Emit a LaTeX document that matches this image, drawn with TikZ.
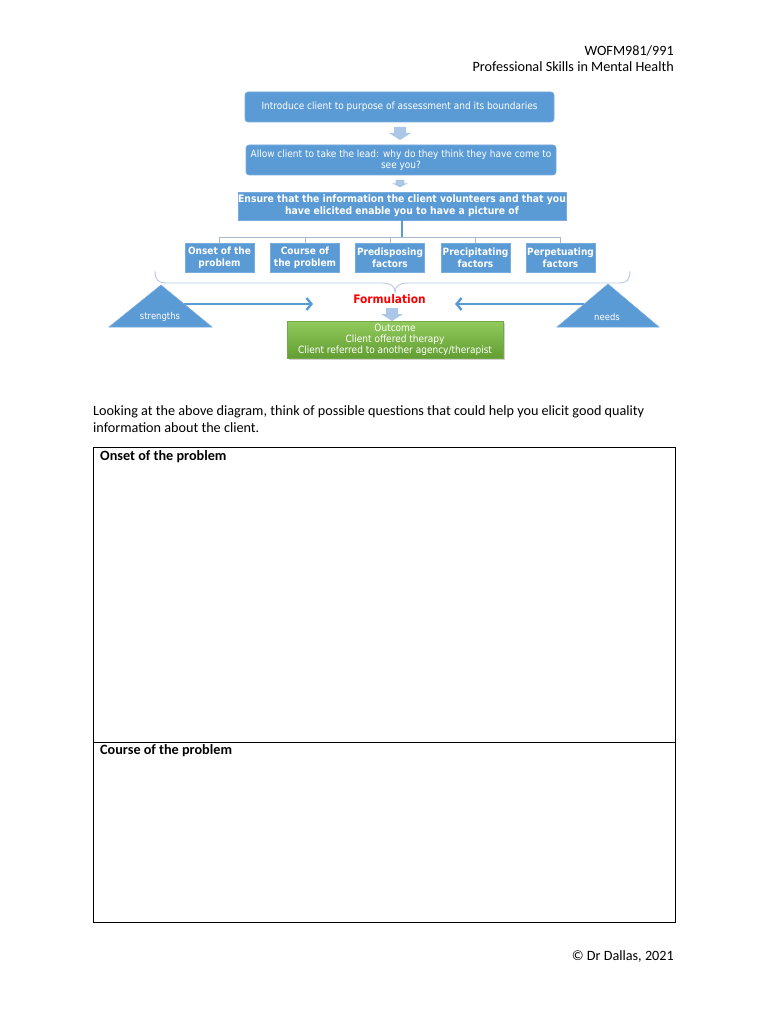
\documentclass[tikz,border=0pt]{standalone}
\usepackage{fontspec}
\setmainfont{Carlito}
\newfontfamily\diagfont[FakeStretch=0.9]{DejaVu Sans}
\usetikzlibrary{arrows.meta}
\definecolor{obl}{RGB}{91,155,213}
\definecolor{oblb}{RGB}{120,172,222}
\definecolor{lbl}{RGB}{172,198,232}
\definecolor{lnc}{RGB}{168,184,202}
\definecolor{brc}{RGB}{185,203,225}
\definecolor{gtop}{RGB}{146,202,92}
\definecolor{gbot}{RGB}{98,158,50}
\begin{document}
\begin{tikzpicture}[x=1pt,y=-1pt,
  bluebox/.style={fill=obl, draw=oblb, line width=0.6pt, text=white, align=center, inner sep=0pt},
  stagebox/.style={bluebox, rounded corners=3pt, minimum width=309pt, minimum height=30pt, font=\diagfont\fontsize{10}{11}\selectfont},
  factorbox/.style={bluebox, minimum width=69pt, minimum height=29pt, font=\diagfont\bfseries\fontsize{10}{11.7}\selectfont},
  bodytext/.style={inner sep=0pt, font=\fontsize{14.2}{17}\selectfont},
  boldtext/.style={inner sep=0pt, font=\bfseries\fontsize{14.2}{17}\selectfont},
  treeline/.style={draw=lnc, line width=0.8pt},
  bluearrow/.style={draw=obl, line width=2.4pt, -{Straight Barb[length=5pt,width=12pt]}},
  trifill/.style={fill=obl, draw=oblb, line width=0.5pt},
  trilabel/.style={inner sep=0pt, text=white, font=\diagfont\fontsize{9.4}{11}\selectfont},
  downarrow/.pic={\fill[lbl] (-6,0) -- (6,0) -- (6,6) -- (11,6) -- (0,13) -- (-11,6) -- (-6,6) -- cycle;}
]
\useasboundingbox (0,0) rectangle (768,1024);
\fill[white] (0,0) rectangle (768,1024);

% header
\node[bodytext, anchor=base east] (code) at (674,55.5) {WOFM981/991};
\node[bodytext, anchor=base east] (course) at (674,71.5) {Professional Skills in Mental Health};

% flow boxes
\node[stagebox] (intro) at (399.5,107) {Introduce client to purpose of assessment and its boundaries};
\node[stagebox, minimum width=310pt] (lead) at (401,160) {Allow client to take the lead: why do they think they have come to\\see you?};
\node[bluebox, minimum width=328pt, minimum height=28pt, font=\diagfont\bfseries\fontsize{10.3}{12.3}\selectfont] (ensure) at (402,206) {Ensure that the information the client volunteers and that you\\have elicited enable you to have a picture of};

\pic at (400,127) {downarrow};
\pic[xscale=0.72, yscale=0.55] at (400,180) {downarrow};

% factors
\node[factorbox] (onset) at (219.5,257.5) {Onset of the\\problem};
\node[factorbox] (coursep) at (305,257.5) {Course of\\the problem};
\node[factorbox] (predis) at (390,257.5) {Predisposing\\factors};
\node[factorbox] (precip) at (475.5,257.5) {Precipitating\\factors};
\node[factorbox] (perpet) at (560.5,257.5) {Perpetuating\\factors};

\coordinate (bus) at (402,237);
\draw[treeline] (onset.north) |- (bus);
\draw[treeline] (coursep.north) |- (bus);
\draw[treeline] (predis.north) |- (bus);
\draw[treeline] (precip.north) |- (bus);
\draw[treeline] (perpet.north) |- (bus);
\draw[draw=obl, line width=1.4pt] (ensure.south -| bus) -- (bus);

% brace
\draw[draw=brc, line width=0.9pt] (155,271) .. controls (155,280) and (158,283) .. (167,283) -- (383,283)
  .. controls (390,283) and (395,286) .. (395,292) .. controls (395,286) and (400,283) .. (407,283)
  -- (618,283) .. controls (627,283) and (630,280) .. (630,271);

% formulation
\node[inner sep=0pt, text=red, font=\diagfont\bfseries\fontsize{11.8}{13}\selectfont] (form) at (389.5,299) {Formulation};
\coordinate (lstart) at (184,304);
\coordinate (lend) at (313,304);
\coordinate (rstart) at (584,304);
\coordinate (rend) at (455,304);
\draw[bluearrow] (lstart) -- (lend);
\draw[bluearrow] (rstart) -- (rend);

% triangles
\fill[trifill] (161,285) -- (212,327) -- (109,327) -- cycle;
\fill[trifill] (608,284) -- (659,327) -- (557,327) -- cycle;
\node[trilabel] (strengths) at (160,317) {strengths};
\node[trilabel] (needs) at (607,317) {needs};

\pic at (392,308) {downarrow};

% outcome
\fill[gray!35] (289,323) rectangle (505,360);
\node[top color=gtop, bottom color=gbot, draw=gbot!90!white, line width=0.4pt, minimum width=216pt, minimum height=37pt, inner sep=0pt, text=white, align=center, font=\diagfont\fontsize{10}{11}\selectfont] (outcome) at (395,339.5) {Outcome\\Client offered therapy\\Client referred to another agency/therapist};

% paragraph
\node[bodytext, anchor=base west] (para1) at (93,415.5) {Looking at the above diagram, think of possible questions that could help you elicit good quality};
\node[bodytext, anchor=base west] (para2) at (93,432.5) {information about the client.};

% table
\draw[line width=1pt] (93,447) rectangle (675,922);
\draw[line width=1pt] (93,742) -- (675,742);
\node[boldtext, anchor=base west] (t1) at (100,460.5) {Onset of the problem};
\node[boldtext, anchor=base west] (t2) at (100,754.5) {Course of the problem};

% footer
\node[bodytext, anchor=base east] (foot) at (674,960) {© Dr Dallas, 2021};
\end{tikzpicture}
\end{document}
